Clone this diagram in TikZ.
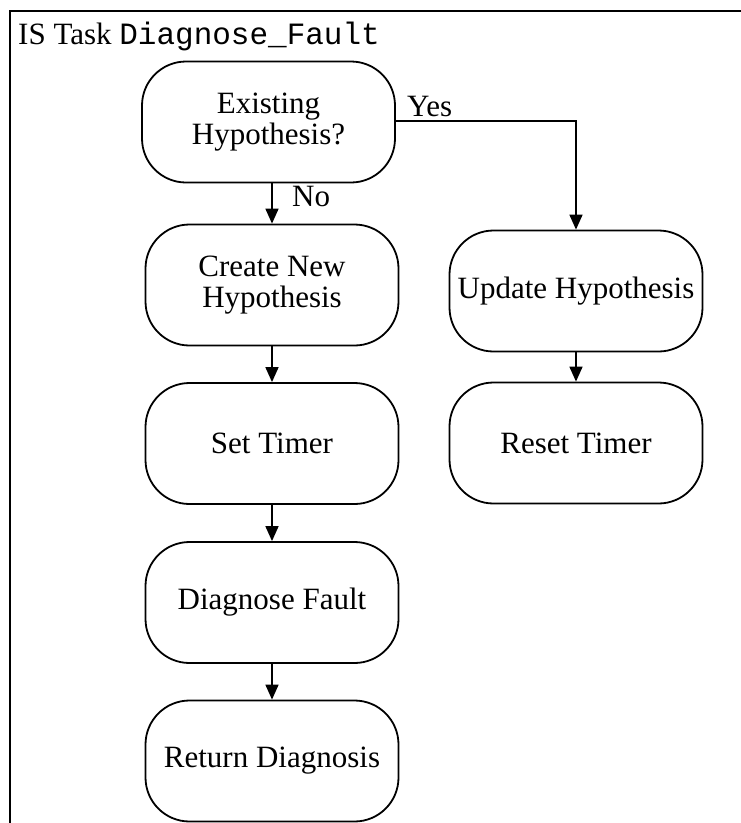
\documentclass[tikz,border=0pt]{standalone}
\usepackage{fontspec}
\setmainfont{Liberation Serif}
\newfontfamily\codefont{Liberation Mono}
\usetikzlibrary{arrows.meta}
\begin{document}
\begin{tikzpicture}[x=1pt,y=-1pt,
  stepbox/.style={draw, line width=1.8pt, rounded corners=44pt,
    minimum width=253pt, minimum height=121pt, align=center,
    font=\fontsize{31}{31}\selectfont, inner sep=0pt},
  flow/.style={line width=1.6pt, -{Triangle[length=15pt,width=13pt]}},
  lbl/.style={font=\fontsize{31}{31}\selectfont, inner sep=0pt}]
\useasboundingbox (0,0) rectangle (741,823);
% open frame: top and left edges
\draw[line width=2.6pt] (741,11) -- (10,11) -- (10,823);
\node[lbl, anchor=base west] (title) at (18,44) {IS Task {\codefont Diagnose\_Fault}};
% left column
\node[stepbox] (exist) at (268.5,122) {Existing\\Hypothesis?};
\node[stepbox] (create) at (272,285) {Create New\\Hypothesis};
\node[stepbox] (settimer) at (272,443.5) {Set Timer};
\node[stepbox] (diag) at (272,602.5) {Diagnose Fault};
\node[stepbox] (ret) at (272,761) {Return Diagnosis};
% right column
\node[stepbox] (update) at (576,291) {Update Hypothesis};
\node[stepbox] (reset) at (576,443) {Reset Timer};
% connectors
\coordinate (bend) at (576,121);
\draw[flow] (exist.east |- bend) -- (bend) -- (update.north);
\node[lbl, anchor=base west] (yes) at (407,116) {Yes};
\draw[flow] (exist.south -| create.north) -- (create.north);
\node[lbl, anchor=base west] (no) at (292,206) {No};
\draw[flow] (create) -- (settimer);
\draw[flow] (settimer) -- (diag);
\draw[flow] (diag) -- (ret);
\draw[flow] (update) -- (reset);
\end{tikzpicture}
\end{document}
